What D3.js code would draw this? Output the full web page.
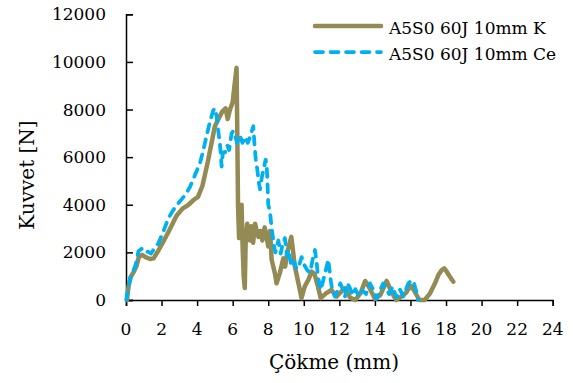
<!DOCTYPE html>
<html>
<head>
<meta charset="utf-8">
<script src="https://cdn.jsdelivr.net/npm/d3@7"></script>
<style>
  html, body { margin: 0; padding: 0; background: #fff; }
  svg { display: block; }
  text { font-family: "DejaVu Serif", serif; fill: #000; }
</style>
</head>
<body>
<svg id="chart" width="579" height="383"></svg>
<script>
// ---- data ----
const seriesNames = ["A5S0 60J 10mm K", "A5S0 60J 10mm Ce"];
const xTicks = [0, 2, 4, 6, 8, 10, 12, 14, 16, 18, 20, 22, 24];
const yTicks = [0, 2000, 4000, 6000, 8000, 10000, 12000];
const xTitle = "Çökme (mm)";
const yTitle = "Kuvvet [N]";

const kDisp = [0.05,0.15,0.25,0.45,0.6,0.72,0.9,1.1,1.35,1.55,1.8,2.1,2.45,2.85,3.2,3.5,3.8,4.05,4.3,4.6,4.8,5.0,5.2,5.4,5.6,5.72,5.85,6.0,6.1,6.22,6.26,6.3,6.36,6.44,6.5,6.56,6.62,6.68,6.74,6.82,6.9,6.97,7.05,7.15,7.26,7.35,7.45,7.55,7.67,7.8,7.9,8.0,8.1,8.19,8.38,8.47,8.66,8.85,8.95,9.1,9.3,9.5,9.7,9.87,10.05,10.25,10.45,10.6,10.8,10.95,11.25,11.55,11.85,12.1,12.35,12.6,12.9,13.2,13.45,13.7,14.0,14.3,14.66,14.95,15.2,15.5,15.75,16.0,16.2,16.5,16.8,17.1,17.38,17.57,17.76,17.9,18.04,18.22,18.41];
const kForce = [0,600,950,1200,1450,1800,1900,1800,1720,1750,2050,2450,2950,3550,3850,3990,4200,4330,4800,5800,6550,7300,7600,7900,8050,7600,8000,8300,9000,9750,7000,4000,2600,2700,4000,2200,1000,500,2800,3200,2700,2500,3100,2400,3200,2900,2650,2900,2500,3050,2700,2250,2900,1700,1100,700,1150,1750,1400,2100,2650,1400,700,80,560,840,1190,1100,560,80,280,420,150,350,500,100,0,300,800,500,50,200,800,300,0,150,300,600,400,0,0,280,700,1050,1260,1330,1190,980,770];

const ceDisp = [0.02,0.1,0.22,0.4,0.55,0.7,0.88,1.05,1.25,1.4,1.54,1.82,2.1,2.38,2.66,2.94,3.32,3.6,3.88,4.16,4.35,4.54,4.72,4.91,5.0,5.1,5.19,5.29,5.38,5.45,5.57,5.7,5.8,5.94,6.03,6.13,6.25,6.41,6.55,6.7,6.85,7.0,7.16,7.22,7.3,7.4,7.45,7.54,7.65,7.75,7.85,7.91,7.96,8.0,8.1,8.18,8.25,8.32,8.4,8.5,8.57,8.7,8.8,8.94,9.05,9.15,9.3,9.45,9.6,9.75,9.88,10.0,10.2,10.35,10.5,10.63,10.72,10.8,10.95,11.1,11.3,11.38,11.5,11.6,11.75,11.9,12.05,12.2,12.32,12.45,12.6,12.75,12.9,13.1,13.3,13.5,13.72,13.9,14.1,14.25,14.47,14.65,14.8,15.0,15.2,15.4,15.6,15.88,16.07,16.2,16.35,16.42];
const ceForce = [0,400,840,1200,1500,2050,2150,2000,2030,1950,2100,2380,2870,3430,3780,4060,4400,4750,5250,5740,6300,6920,7480,7970,8050,7700,7100,6500,5600,6200,6200,6500,6300,7000,7100,6900,6600,6900,6600,6850,6600,6900,7300,6600,5900,5400,5000,4650,5200,5500,5900,5700,4900,4000,3700,3100,2700,2300,2000,2300,2500,1950,2300,2600,1850,2100,1400,1600,1300,1500,1800,1500,1250,1150,1700,2100,1600,980,420,840,1450,1700,900,420,140,400,700,450,150,700,500,200,450,150,400,250,700,450,50,350,700,450,250,560,100,450,150,700,840,700,300,0];

const colors = ["#948A54", "#00B0F0"];

// ---- layout ----
const svg = d3.select("#chart");
const x = d3.scaleLinear().domain([0, 24]).range([126, 552.7]);
const y = d3.scaleLinear().domain([0, 12000]).range([300, 14.3]);

// axes
const yAxis = svg.append("g").attr("transform", "translate(126,0)")
  .call(d3.axisRight(y).tickValues(yTicks).tickSize(7).tickFormat(""));
yAxis.select(".domain").attr("stroke", "#000").attr("stroke-width", 1.5);
yAxis.selectAll(".tick line").attr("stroke", "#000").attr("stroke-width", 1.5);

const xAxis = svg.append("g").attr("transform", "translate(0,300)")
  .call(d3.axisBottom(x).tickValues(xTicks).tickSize(6).tickSizeOuter(6).tickFormat(""));
xAxis.select(".domain").attr("stroke", "#000").attr("stroke-width", 1.5);
xAxis.selectAll(".tick line").attr("stroke", "#000").attr("stroke-width", 1.5);

// tick labels
svg.append("g").selectAll("text").data(yTicks).join("text")
  .attr("x", 106).attr("y", d => y(d) + 6)
  .attr("text-anchor", "end").attr("font-size", 17)
  .text(d => d);
svg.append("g").selectAll("text").data(xTicks).join("text")
  .attr("x", d => x(d)).attr("y", 335)
  .attr("text-anchor", "middle").attr("font-size", 17)
  .text(d => d);

// titles
svg.append("text").attr("x", 334).attr("y", 369)
  .attr("text-anchor", "middle").attr("font-size", 20).text(xTitle);
svg.append("text").attr("transform", "translate(34,175) rotate(-90)")
  .attr("text-anchor", "middle").attr("font-size", 20).text(yTitle);

// lines
const line = d3.line().x(d => x(d[0])).y(d => y(d[1]));
const kData = kDisp.map((d, i) => [d, kForce[i]]);
const ceData = ceDisp.map((d, i) => [d, ceForce[i]]);

svg.append("path").datum(kData).attr("d", line)
  .attr("fill", "none").attr("stroke", colors[0]).attr("stroke-width", 4.5)
  .attr("stroke-linejoin", "round").attr("stroke-linecap", "round");
svg.append("path").datum(ceData).attr("d", line)
  .attr("fill", "none").attr("stroke", colors[1]).attr("stroke-width", 3.75)
  .attr("stroke-dasharray", "8,7.5")
  .attr("stroke-linejoin", "round").attr("stroke-linecap", "round");

// legend
const leg = svg.append("g");
[26, 52].forEach((ly, i) => {
  const l = leg.append("line").attr("x1", 315).attr("x2", 381).attr("y1", ly).attr("y2", ly)
    .attr("stroke", colors[i]).attr("stroke-linecap", "round");
  if (i === 0) l.attr("stroke-width", 4.5);
  else l.attr("stroke-width", 3.75).attr("stroke-dasharray", "8,7.5");
  leg.append("text").attr("x", 389).attr("y", ly + 8).attr("font-size", 17).text(seriesNames[i]);
});
</script>
</body>
</html>
